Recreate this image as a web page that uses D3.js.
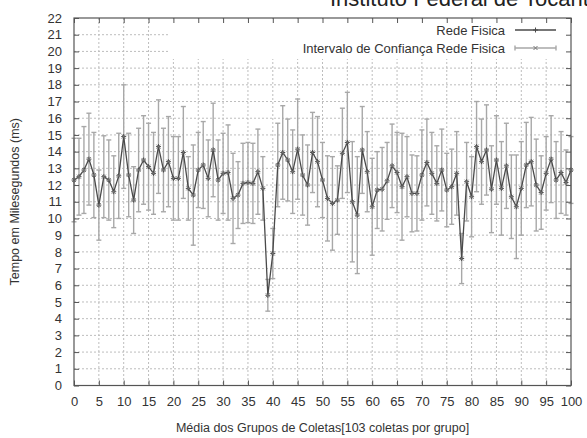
<!DOCTYPE html>
<html>
<head>
<meta charset="utf-8">
<script src="https://cdn.jsdelivr.net/npm/d3@7/dist/d3.min.js"></script>
<style>
  html, body { margin: 0; padding: 0; background: #fff; }
  svg { display: block; font-family: "Liberation Sans", Arial, sans-serif; }
</style>
</head>
<body>
<svg id="chart" width="587" height="438"></svg>
<script>
// Group index (0..100), mean time per group (ms) and half-width of the confidence interval
const groups = d3.range(0, 101);
const meanMs = [
  12.3, 12.5, 12.9, 13.55, 12.6, 10.8, 12.5, 12.3, 11.6, 12.55,
  14.9, 12.6, 11.1, 12.9, 13.5, 13.1, 12.7, 14.3, 12.9, 13.4,
  12.4, 12.4, 13.95, 11.8, 11.4, 12.9, 13.2, 12.4, 14.1, 12.3,
  12.7, 12.75, 11.2, 11.4, 12.1, 12.15, 12.1, 12.8, 11.8, 5.4,
  7.9, 13.2, 13.95, 13.5, 12.8, 14.15, 12.6, 12.0, 13.95, 13.4,
  12.3, 11.2, 10.9, 11.1, 13.9, 14.55, 11.0, 10.2, 14.1, 12.8,
  10.7, 11.7, 11.75, 12.25, 13.15, 12.75, 11.9, 12.5, 11.5, 11.5,
  12.6, 13.35, 12.7, 12.1, 12.9, 11.7, 11.9, 12.7, 7.6, 12.2,
  11.3, 14.3, 13.4, 14.1, 11.75, 13.5, 11.8, 13.15, 11.3, 10.7,
  11.8, 13.2, 13.4, 12.0, 11.55, 12.7, 13.55, 12.3, 12.75, 12.15,
  12.9
];
const ciHalf = [
  2.5, 2.3, 2.6, 2.75, 2.55, 2.1, 2.45, 2.4, 2.15, 2.55,
  3.1, 2.5, 2.0, 2.5, 2.65, 2.6, 2.45, 2.8, 2.5, 2.7,
  2.5, 2.5, 2.75, 1.9, 3.0, 2.25, 2.6, 2.3, 2.8, 2.4,
  2.4, 2.85, 2.7, 2.0, 2.4, 2.4, 2.4, 2.55, 1.9, 0.95,
  1.5, 2.5, 2.8, 2.45, 2.5, 3.0, 2.4, 2.4, 2.4, 2.7,
  2.25, 2.55, 2.8, 2.05, 2.7, 3.0, 3.6, 3.5, 2.6, 2.4,
  2.9, 2.3, 2.5, 2.3, 2.5, 2.4, 3.2, 2.4, 2.3, 2.25,
  2.7, 2.6, 2.45, 2.25, 2.45, 2.2, 2.25, 2.5, 1.5, 2.35,
  2.4, 2.7, 2.55, 2.7, 2.6, 2.65, 2.8, 2.55, 2.5, 3.1,
  2.8, 2.55, 2.65, 2.75, 2.2, 2.2, 2.6, 2.3, 2.45, 1.95,
  2.0
];
const xTicks = d3.range(0, 101, 5);
const yTicks = d3.range(0, 23, 1);

const titleText = "Instituto Federal de Tocantins";
const xTitle = "Média dos Grupos de Coletas[103 coletas por grupo]";
const yTitle = "Tempo em Milesegundos (ms)";
const seriesNames = ["Rede Fisica", "Intervalo de Confiança Rede Fisica"];

const data = groups.map((g, i) => ({ g, m: meanMs[i], lo: meanMs[i] - ciHalf[i], hi: meanMs[i] + ciHalf[i] }));

const W = 587, H = 438;
const plot = { left: 74, right: 571, top: 18, bottom: 385.5 };

const svg = d3.select("#chart");
const x = d3.scaleLinear().domain([0, 100]).range([plot.left, plot.right]);
const y = d3.scaleLinear().domain([0, 22]).range([plot.bottom, plot.top]);

const textColor = "#333";
const gridColor = "#bdbdbd";
const borderColor = "#555";
const lineColor = "#4a4a4a";
const barColor = "#a8a8a8";

// Title (sits partly above the canvas)
svg.append("text")
  .attr("x", 330).attr("y", 6)
  .attr("font-size", 22)
  .attr("fill", "#222")
  .text(titleText);

// Dotted grid
const grid = svg.append("g");
grid.selectAll("line.gx").data(xTicks.slice(1, -1)).join("line")
  .attr("x1", d => x(d)).attr("x2", d => x(d))
  .attr("y1", plot.top).attr("y2", plot.bottom)
  .attr("stroke", gridColor).attr("stroke-width", 1).attr("stroke-dasharray", "2,2");
grid.selectAll("line.gy").data(yTicks.slice(1, -1)).join("line")
  .attr("x1", plot.left).attr("x2", plot.right)
  .attr("y1", d => y(d)).attr("y2", d => y(d))
  .attr("stroke", gridColor).attr("stroke-width", 1).attr("stroke-dasharray", "2,2");

// Opaque key area
svg.append("rect")
  .attr("x", 168).attr("y", plot.top + 1)
  .attr("width", plot.right - 168 - 1).attr("height", 40)
  .attr("fill", "#fff");

// Error bars
const capW = 2.5;
const bars = svg.append("g").attr("stroke", barColor).attr("stroke-width", 1.4).attr("fill", "none");
bars.selectAll("line.v").data(data).join("line")
  .attr("x1", d => x(d.g)).attr("x2", d => x(d.g))
  .attr("y1", d => y(d.lo)).attr("y2", d => y(d.hi));
bars.selectAll("line.t").data(data).join("line")
  .attr("x1", d => x(d.g) - capW).attr("x2", d => x(d.g) + capW)
  .attr("y1", d => y(d.hi)).attr("y2", d => y(d.hi));
bars.selectAll("line.b").data(data).join("line")
  .attr("x1", d => x(d.g) - capW).attr("x2", d => x(d.g) + capW)
  .attr("y1", d => y(d.lo)).attr("y2", d => y(d.lo));

// Mean line
const line = d3.line().x(d => x(d.g)).y(d => y(d.m));
svg.append("path").datum(data)
  .attr("d", line)
  .attr("fill", "none").attr("stroke", lineColor).attr("stroke-width", 1.3);

// "+" markers on the line, "x" markers for the interval series
const ms = 2.5;
const plus = svg.append("g").attr("stroke", lineColor).attr("stroke-width", 1);
plus.selectAll("path").data(data).join("path")
  .attr("d", d => `M${x(d.g) - ms},${y(d.m)}H${x(d.g) + ms}M${x(d.g)},${y(d.m) - ms}V${y(d.m) + ms}`);
const cross = svg.append("g").attr("stroke", "#777").attr("stroke-width", 1);
cross.selectAll("path").data(data).join("path")
  .attr("d", d => `M${x(d.g) - 2},${y(d.m) - 2}L${x(d.g) + 2},${y(d.m) + 2}M${x(d.g) - 2},${y(d.m) + 2}L${x(d.g) + 2},${y(d.m) - 2}`);

// Axes with inward ticks on all four sides
const tick = 5;
const axB = svg.append("g").attr("transform", `translate(0,${plot.bottom})`)
  .call(d3.axisBottom(x).tickValues(xTicks).tickSizeInner(-tick).tickSizeOuter(0).tickPadding(11));
const axL = svg.append("g").attr("transform", `translate(${plot.left},0)`)
  .call(d3.axisLeft(y).tickValues(yTicks).tickSizeInner(-tick).tickSizeOuter(0).tickPadding(12));
const axT = svg.append("g").attr("transform", `translate(0,${plot.top})`)
  .call(d3.axisTop(x).tickValues(xTicks).tickSizeInner(-tick).tickSizeOuter(0).tickFormat(""));
const axR = svg.append("g").attr("transform", `translate(${plot.right},0)`)
  .call(d3.axisRight(y).tickValues(yTicks).tickSizeInner(-tick).tickSizeOuter(0).tickFormat(""));
[axB, axL, axT, axR].forEach(a => {
  a.select(".domain").remove();
  a.selectAll(".tick line").attr("stroke", borderColor).attr("stroke-width", 1);
  a.selectAll(".tick text").attr("fill", textColor).attr("font-size", 13)
    .attr("font-family", "\"Liberation Sans\", Arial, sans-serif");
});

// Border
svg.append("rect")
  .attr("x", plot.left).attr("y", plot.top)
  .attr("width", plot.right - plot.left).attr("height", plot.bottom - plot.top)
  .attr("fill", "none").attr("stroke", borderColor).attr("stroke-width", 1.2);

// Axis titles
svg.append("text")
  .attr("x", (plot.left + plot.right) / 2).attr("y", 432)
  .attr("text-anchor", "middle").attr("font-size", 12.5).attr("fill", textColor)
  .text(xTitle);
svg.append("text")
  .attr("transform", `translate(19,${(plot.top + plot.bottom) / 2}) rotate(-90)`)
  .attr("text-anchor", "middle").attr("font-size", 12.5).attr("fill", textColor)
  .text(yTitle);

// Key
const keyTextX = 505, keyS0 = 515, keyS1 = 556, keyMid = (keyS0 + keyS1) / 2;
const keyY = [30, 48];
const key = svg.append("g");
key.selectAll("text").data(seriesNames).join("text")
  .attr("x", keyTextX).attr("y", (d, i) => keyY[i])
  .attr("dy", "0.35em").attr("text-anchor", "end")
  .attr("font-size", 13).attr("fill", textColor)
  .text(d => d);
key.append("line")
  .attr("x1", keyS0).attr("x2", keyS1).attr("y1", keyY[0]).attr("y2", keyY[0])
  .attr("stroke", lineColor).attr("stroke-width", 1.3);
key.append("path")
  .attr("d", `M${keyMid - ms},${keyY[0]}H${keyMid + ms}M${keyMid},${keyY[0] - ms}V${keyY[0] + ms}`)
  .attr("stroke", lineColor).attr("stroke-width", 1);
key.append("path")
  .attr("d", `M${keyS0},${keyY[1]}H${keyS1}M${keyS0},${keyY[1] - capW}V${keyY[1] + capW}M${keyS1},${keyY[1] - capW}V${keyY[1] + capW}`)
  .attr("stroke", barColor).attr("stroke-width", 1.4).attr("fill", "none");
key.append("path")
  .attr("d", `M${keyMid - 2},${keyY[1] - 2}L${keyMid + 2},${keyY[1] + 2}M${keyMid - 2},${keyY[1] + 2}L${keyMid + 2},${keyY[1] - 2}`)
  .attr("stroke", "#777").attr("stroke-width", 1);
</script>
</body>
</html>
